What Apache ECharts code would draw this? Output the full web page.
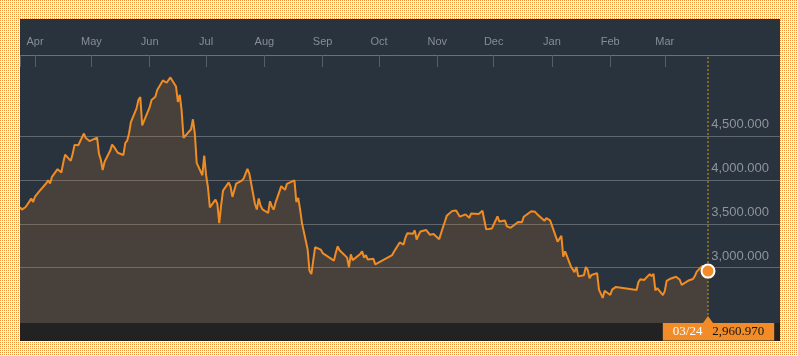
<!DOCTYPE html>
<html>
<head>
<meta charset="utf-8">
<script src="https://cdn.jsdelivr.net/npm/echarts@6/dist/echarts.min.js"></script>
<style>
html,body{margin:0;padding:0;width:798px;height:356px;overflow:hidden;background:#fff;}
#bg{position:absolute;left:0;top:0;}
#chart{position:absolute;left:20px;top:19px;width:760px;height:322px;}
</style>
</head>
<body>
<canvas id="bg" width="798" height="356"></canvas>
<div id="chart"></div>
<script>
const dates = [
'2015-03-24','2015-03-25','2015-03-26','2015-03-27','2015-03-30','2015-03-31',
'2015-04-01','2015-04-02','2015-04-03','2015-04-07','2015-04-08','2015-04-09','2015-04-10','2015-04-13','2015-04-14','2015-04-15','2015-04-16','2015-04-17','2015-04-20','2015-04-21','2015-04-22','2015-04-23','2015-04-24','2015-04-27','2015-04-28','2015-04-29','2015-04-30',
'2015-05-04','2015-05-05','2015-05-06','2015-05-07','2015-05-08','2015-05-11','2015-05-12','2015-05-13','2015-05-14','2015-05-15','2015-05-18','2015-05-19','2015-05-20','2015-05-21','2015-05-22','2015-05-25','2015-05-26','2015-05-27','2015-05-28','2015-05-29',
'2015-06-01','2015-06-02','2015-06-03','2015-06-04','2015-06-05','2015-06-08','2015-06-09','2015-06-10','2015-06-11','2015-06-12','2015-06-15','2015-06-16','2015-06-17','2015-06-18','2015-06-19','2015-06-23','2015-06-24','2015-06-25','2015-06-26','2015-06-29','2015-06-30',
'2015-07-01','2015-07-02','2015-07-03','2015-07-06','2015-07-07','2015-07-08','2015-07-09','2015-07-10','2015-07-13','2015-07-14','2015-07-15','2015-07-16','2015-07-17','2015-07-20','2015-07-21','2015-07-22','2015-07-23','2015-07-24','2015-07-27','2015-07-28','2015-07-29','2015-07-30','2015-07-31',
'2015-08-03','2015-08-04','2015-08-05','2015-08-06','2015-08-07','2015-08-10','2015-08-11','2015-08-12','2015-08-13','2015-08-14','2015-08-17','2015-08-18','2015-08-19','2015-08-20','2015-08-21','2015-08-24','2015-08-25','2015-08-26','2015-08-27','2015-08-28','2015-08-31',
'2015-09-01','2015-09-02','2015-09-07','2015-09-08','2015-09-09','2015-09-10','2015-09-11','2015-09-14','2015-09-15','2015-09-16','2015-09-17','2015-09-18','2015-09-21','2015-09-22','2015-09-23','2015-09-24','2015-09-25','2015-09-28','2015-09-29','2015-09-30',
'2015-10-08','2015-10-09','2015-10-12','2015-10-13','2015-10-14','2015-10-15','2015-10-16','2015-10-19','2015-10-20','2015-10-21','2015-10-22','2015-10-23','2015-10-26','2015-10-27','2015-10-28','2015-10-29','2015-10-30',
'2015-11-02','2015-11-03','2015-11-04','2015-11-05','2015-11-06','2015-11-09','2015-11-10','2015-11-11','2015-11-12','2015-11-13','2015-11-16','2015-11-17','2015-11-18','2015-11-19','2015-11-20','2015-11-23','2015-11-24','2015-11-25','2015-11-26','2015-11-27','2015-11-30',
'2015-12-01','2015-12-02','2015-12-03','2015-12-04','2015-12-07','2015-12-08','2015-12-09','2015-12-10','2015-12-11','2015-12-14','2015-12-15','2015-12-16','2015-12-17','2015-12-18','2015-12-21','2015-12-22','2015-12-23','2015-12-24','2015-12-25','2015-12-28','2015-12-29','2015-12-30','2015-12-31',
'2016-01-04','2016-01-05','2016-01-06','2016-01-07','2016-01-08','2016-01-11','2016-01-12','2016-01-13','2016-01-14','2016-01-15','2016-01-18','2016-01-19','2016-01-20','2016-01-21','2016-01-22','2016-01-25','2016-01-26','2016-01-27','2016-01-28','2016-01-29',
'2016-02-01','2016-02-02','2016-02-03','2016-02-04','2016-02-05','2016-02-15','2016-02-16','2016-02-17','2016-02-18','2016-02-19','2016-02-22','2016-02-23','2016-02-24','2016-02-25','2016-02-26','2016-02-29',
'2016-03-01','2016-03-02','2016-03-03','2016-03-04','2016-03-07','2016-03-08','2016-03-09','2016-03-10','2016-03-11','2016-03-14','2016-03-15','2016-03-16','2016-03-17','2016-03-18','2016-03-21','2016-03-22','2016-03-23','2016-03-24'
];
const values = [
3691.4,3660.7,3682.1,3691.1,3786.6,3747.9,
3810.3,3825.8,3863.9,3961.4,3994.8,3957.5,4034.3,4121.7,4135.6,4084.2,4194.8,4287.3,4217.1,4293.6,4398.5,4414.5,4393.7,4527.4,4476.6,4476.2,4441.7,
4480.5,4298.7,4229.3,4112.2,4205.9,4333.6,4401.2,4375.8,4378.3,4308.7,4283.5,4417.6,4446.3,4529.4,4657.6,4813.8,4910.9,4941.7,4620.3,4611.7,
4828.7,4910.5,4910.0,4947.1,5023.1,5131.9,5113.5,5106.0,5121.6,5166.4,5063.0,4887.4,4967.9,4785.4,4478.4,4576.5,4690.2,4527.8,4192.9,4053.0,4277.2,
4053.7,3912.8,3686.9,3775.9,3727.1,3507.2,3709.3,3877.8,3970.4,3924.5,3805.7,3823.2,3957.4,3992.1,4017.7,4026.0,4123.9,4070.9,3725.6,3663.0,3789.2,3705.8,3663.7,
3622.9,3756.6,3694.6,3661.5,3744.2,3928.4,3927.9,3886.3,3954.6,3965.3,3993.7,3748.2,3794.1,3664.3,3507.7,3209.9,2965.0,2927.3,3083.6,3232.4,3206.0,
3166.6,3160.2,3080.4,3170.5,3243.1,3197.9,3200.2,3114.8,3005.2,3152.3,3086.1,3097.9,3156.5,3185.6,3115.9,3142.7,3092.4,3100.8,3038.1,3052.8,
3143.4,3183.2,3287.7,3293.2,3262.4,3338.1,3391.4,3386.7,3425.3,3320.7,3368.7,3412.4,3429.6,3434.3,3375.2,3387.3,3382.6,
3325.1,3316.7,3459.6,3522.8,3590.0,3646.9,3640.5,3650.3,3632.9,3580.8,3607.0,3604.8,3568.5,3617.1,3630.5,3610.3,3616.1,3647.9,3635.6,3436.3,3445.4,
3456.3,3536.9,3584.8,3525.0,3536.9,3470.1,3472.4,3455.5,3434.6,3520.7,3510.4,3516.2,3580.0,3579.0,3642.5,3651.8,3636.1,3612.5,3627.9,3533.8,3563.7,3572.9,3539.2,
3296.3,3287.7,3361.8,3125.0,3186.4,3016.7,3022.9,2949.6,3007.7,2901.0,2913.8,3007.7,2976.7,2880.5,2916.6,2938.5,2749.8,2735.6,2655.7,2737.6,
2688.9,2749.6,2739.3,2781.0,2763.5,2746.2,2836.6,2867.3,2862.9,2860.0,2927.2,2903.3,2928.9,2741.3,2767.2,2688.0,
2733.2,2849.7,2859.8,2874.2,2897.3,2901.4,2862.6,2804.7,2810.3,2857.1,2864.4,2870.4,2904.8,2955.2,3018.8,2999.4,3009.3,2960.97
];
const monthTicks = ['2015-04-01','2015-05-01','2015-06-01','2015-07-01','2015-08-01','2015-09-01','2015-10-01','2015-11-01','2015-12-01','2016-01-01','2016-02-01','2016-03-01'];
const monthLabels = ['Apr','May','Jun','Jul','Aug','Sep','Oct','Nov','Dec','Jan','Feb','Mar'];
const yTicks = [3000, 3500, 4000, 4500];
const yMin = 2370, yMax = 5422;

// page background: orange dot pattern
(function(){
  const c=document.getElementById('bg'),ctx=c.getContext('2d');
  const img=ctx.createImageData(798,356),d=img.data;
  for(let y=0;y<356;y++)for(let x=0;x<798;x++){
    const k=(y*798+x)*4,dot=(x%2===0&&y%2===0);
    d[k]=dot?241:255;d[k+1]=dot?144:255;d[k+2]=dot?56:255;d[k+3]=255;
  }
  ctx.putImageData(img,0,0);
})();

function parse(s){const p=s.split('-').map(Number);return Date.UTC(p[0],p[1]-1,p[2]);}
function fmt(n){const s=Number(n).toFixed(3).split('.');return s[0].replace(/\B(?=(\d{3})+(?!\d))/g,',')+'.'+s[1];}
const DAY=86400000;
const xMin = parse(dates[0]);
const xMax = xMin + 404.3*DAY;
const monthTs = monthTicks.map(parse);
const lastTs = parse(dates[dates.length-1]);
const lastVal = values[values.length-1];
const lastDate = dates[dates.length-1].slice(5).replace('-','/');
const seriesData = dates.map((d,i)=>[parse(d), values[i]]);

const chart = echarts.init(document.getElementById('chart'));
chart.setOption({
  backgroundColor:'#29333e',
  animation:false,
  grid:{left:0,right:0,top:36,bottom:18},
  xAxis:{
    type:'value', position:'top', min:xMin, max:xMax, scale:true,
    axisLine:{show:true,lineStyle:{color:'#6b7178',width:1}},
    axisTick:{show:true,inside:true,length:12,lineStyle:{color:'#565d65',width:1},customValues:[xMin].concat(monthTs,[xMax])},
    axisLabel:{show:true,customValues:monthTs,margin:8,color:'#878d94',fontSize:11,fontFamily:'Liberation Sans',
      formatter:function(v){const i=monthTs.findIndex(t=>Math.abs(t-v)<DAY/2);return i>=0?monthLabels[i]:'';}},
    splitLine:{show:false}
  },
  yAxis:{
    type:'value', position:'right', min:yMin, max:yMax,
    axisLine:{show:false},
    axisTick:{show:false,customValues:yTicks},
    axisLabel:{inside:true,customValues:yTicks,margin:11,color:'#8e949a',fontSize:13,fontFamily:'Liberation Sans',
      verticalAlign:'bottom',padding:[0,0,5,0],formatter:function(v){return fmt(v);}},
    splitLine:{show:true,lineStyle:{color:'#60666c',width:1}}
  },
  graphic:[{type:'rect',left:0,bottom:0,shape:{width:760,height:18},style:{fill:'#222222'},silent:true}],
  series:[{
    type:'line', data:seriesData, showSymbol:false, symbol:'none',
    lineStyle:{color:'#f08c24',width:2},
    areaStyle:{color:'rgba(226,138,45,0.17)',opacity:1,origin:'start'},
    markLine:{silent:true,symbol:['none','none'],label:{show:false},
      lineStyle:{type:[2,2],color:'#9b7829',width:1.5,opacity:1},
      data:[{xAxis:lastTs}]},
    markPoint:{silent:true,data:[
      {coord:[lastTs,lastVal],symbol:'circle',symbolSize:13,itemStyle:{color:'#f28c28',borderColor:'#ffffff',borderWidth:2},label:{show:false}},
      {coord:[lastTs,yMin],symbol:'triangle',symbolSize:[10,7],symbolOffset:[0,-3.5],itemStyle:{color:'#f28c28'},
        label:{show:true,position:'bottom',distance:0,offset:[10.5,0],backgroundColor:'#f28c28',padding:[2,10,2,10],
          fontFamily:'Liberation Serif',fontSize:13,lineHeight:13.5,
          formatter:'{d|'+lastDate+'}   {v|'+fmt(lastVal)+'}',
          rich:{d:{color:'#ffffff',fontFamily:'Liberation Serif',fontSize:13,lineHeight:13.5},v:{color:'#151515',fontFamily:'Liberation Serif',fontSize:13,lineHeight:13.5}}}}
    ]}
  }]
});
</script>
</body>
</html>
